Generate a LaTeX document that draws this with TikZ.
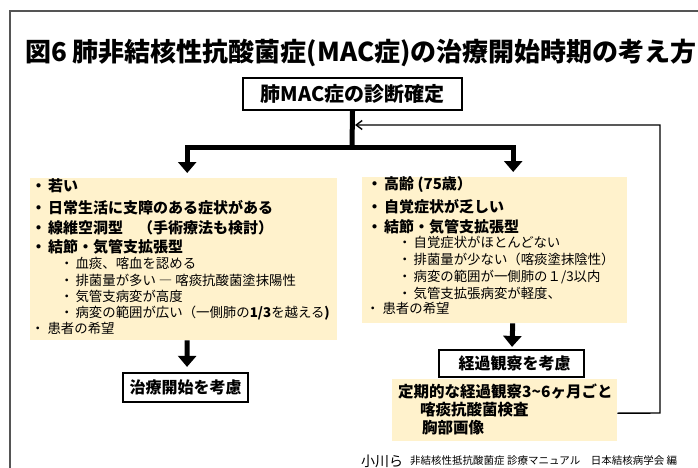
\documentclass[tikz,border=0pt]{standalone}
\usepackage{fontspec}
\setmainfont{Noto Sans CJK JP}
\usetikzlibrary{arrows.meta}
\definecolor{ybg}{HTML}{FFF2CC}
\definecolor{framegray}{HTML}{555555}
\newcommand{\fsz}[1]{\fontsize{#1}{#1}\selectfont}
\tikzset{
  txt/.style={inner sep=0pt, anchor=west},
  bl/.style={txt, font=\bfseries\fsz{15}},
  sl/.style={txt, font=\fsz{13.4}},
  ybox/.style={fill=ybg, draw=none, inner sep=0pt, anchor=north west},
  kbox/.style={draw=black, line width=2.2pt, fill=white, inner sep=0pt, font=\bfseries\fsz{16}},
  blockarrow/.style={line width=5pt, -{Triangle[width=18pt,length=11pt]}},
  fb/.style={line width=1.4pt, -{Straight Barb[length=6pt,width=9pt]}},
}
\begin{document}
\begin{tikzpicture}[x=1pt,y=-1pt]
\useasboundingbox (0,0) rectangle (698,468);
% outer frame
\draw[framegray, line width=2pt] (702,11) -- (10,11) -- (10,472);
% title
\node[txt, font=\bfseries\fsz{26}] (title) at (25,53) {図6 肺非結核性抗酸菌症(MAC症)の治療開始時期の考え方};
% top box
\node[kbox, minimum width=219pt, minimum height=32pt, font=\bfseries\fsz{20}] (diag) at (352.5,94) {肺MAC症の診断確定};
% yellow boxes
\node[ybox, minimum width=307pt, minimum height=162pt] (lbox) at (30,178) {};
\node[ybox, minimum width=265pt, minimum height=146pt] (rbox) at (362,177) {};
\node[ybox, minimum width=225pt, minimum height=62pt] (lowbox) at (392,379) {};
% left box text
\node[bl] (l1) at (31,186) {・\hspace{2pt}若い};
\node[bl] (l2) at (31,208) {・\hspace{2pt}日常生活に支障のある症状がある};
\node[bl] (l3) at (31,228) {・\hspace{2pt}線維空洞型　（手術療法も検討）};
\node[bl] (l4) at (31,247) {・\hspace{2pt}結節・気管支拡張型};
\node[sl] (l5) at (60,263) {・\hspace{2pt}血痰、喀血を認める};
\node[sl] (l6) at (60,280) {・\hspace{2pt}排菌量が多い ― 喀痰抗酸菌塗抹陽性};
\node[sl] (l7) at (60,296) {・\hspace{2pt}気管支病変が高度};
\node[sl] (l8) at (60,313) {・\hspace{2pt}病変の範囲が広い（一側肺の\textbf{1/3}を越える\textbf{)}};
\node[sl] (l9) at (31,328) {・\hspace{3pt}患者の希望};
% right box text
\node[bl] (r1) at (367,185) {・\hspace{2pt}高齢 (75歳）};
\node[bl] (r2) at (367,207) {・\hspace{2pt}自覚症状が乏しい};
\node[bl] (r3) at (367,227) {・\hspace{2pt}結節・気管支拡張型};
\node[sl] (r4) at (398,242) {・\hspace{2pt}自覚症状がほとんどない};
\node[sl] (r5) at (398,259) {・\hspace{2pt}排菌量が少ない（喀痰塗抹陰性）};
\node[sl] (r6) at (398,277) {・\hspace{2pt}病変の範囲が一側肺の１/3以内};
\node[sl] (r7) at (398,293) {・\hspace{2pt}気管支拡張病変が軽度、};
\node[sl] (r8) at (366,308) {・\hspace{3pt}患者の希望};
% lower yellow box text
\node[bl, font=\bfseries\fsz{15.5}] (w1) at (398,392) {定期的な経過観察3\textasciitilde 6ヶ月ごと};
\node[bl, font=\bfseries\fsz{15.5}] (w2) at (420,410) {喀痰抗酸菌検査};
\node[bl, font=\bfseries\fsz{15.5}] (w3) at (422,428) {胸部画像};
% result boxes
\node[kbox, minimum width=125pt, minimum height=29pt] (treat) at (185.5,387.5) {治療開始を考慮};
\node[kbox, minimum width=145pt, minimum height=27pt] (watch) at (511.5,363.5) {\hspace{6pt}経過観察を考慮};
% connectors
\coordinate (j) at (352,147);
\draw[line width=5pt] (diag.south) -- (j);
\draw[blockarrow, shorten >=5pt] ([xshift=2.5pt]j) -| ([xshift=3.5pt]lbox.north);
\draw[blockarrow, shorten >=5pt] ([xshift=-2.5pt]j) -| ([xshift=18.5pt]rbox.north);
\draw[blockarrow, shorten >=5pt] ([xshift=3.5pt]lbox.south) -- ([xshift=1.5pt]treat.north);
\draw[blockarrow, shorten >=2pt] ([xshift=18pt]rbox.south) -- ([xshift=0.5pt]watch.north);
\coordinate (fbin) at (355,125);
\coordinate (fbcorner) at (660,413);
\draw[fb] ([yshift=-3pt]lowbox.east) -- (fbcorner) |- (fbin);
% citation
\node[txt, font=\fsz{14}] (cite1) at (361,461) {小川ら};
\node[txt, font=\fsz{10.5}] (cite2) at (410,461) {非結核性抵抗酸菌症 診療マニュアル　日本結核病学会 編};
\end{tikzpicture}
\end{document}
